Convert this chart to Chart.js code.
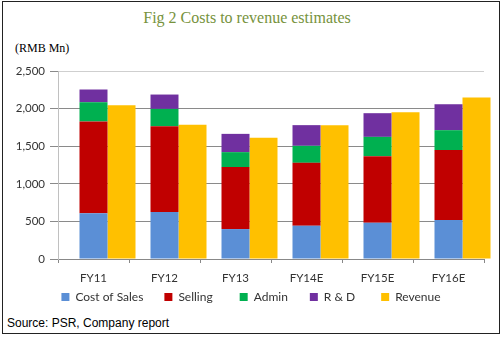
<!DOCTYPE html>
<html>
<head>
<meta charset="utf-8">
<script src="https://cdn.jsdelivr.net/npm/chart.js@4"></script>
<style>
  html, body { margin: 0; padding: 0; background: #fff; }
  #wrap { position: relative; width: 502px; height: 337px; overflow: hidden; background: #fff; }
  #frame { position: absolute; left: 2px; top: 1px; width: 496px; height: 331px; border: 1px solid #222; box-sizing: content-box; }
  #title { position: absolute; left: 0; width: 494px; top: 9px; text-align: center; font-family: "Liberation Serif", serif; font-size: 16px; color: #76923C; white-space: nowrap; }
  #unit { position: absolute; left: 15px; top: 41px; font-family: "Liberation Serif", serif; font-size: 12px; color: #000; white-space: nowrap; }
  #source { position: absolute; left: 7px; top: 316px; font-family: "Liberation Sans", Arial, sans-serif; font-size: 12px; color: #000; white-space: nowrap; }
  #c { position: absolute; left: 0; top: 0; }
</style>
</head>
<body>
<div id="wrap">
  <div id="frame"></div>
  <div id="title">Fig 2 Costs to revenue estimates</div>
  <div id="unit">(RMB Mn)</div>
  <div id="source">Source: PSR, Company report</div>
  <canvas id="c" width="502" height="337"></canvas>
</div>
<script>
const categories = ["FY11", "FY12", "FY13", "FY14E", "FY15E", "FY16E"];
const costOfSales = [607, 624, 398, 442, 482, 518];
const selling     = [1222, 1142, 824, 837, 886, 930];
const admin       = [256, 230, 199, 226, 256, 265];
const rnd         = [169, 191, 243, 275, 315, 345];
const revenue     = [2045, 1784, 1611, 1780, 1952, 2147];
const padding     = [0, 0, 0, 0, 0, 0];
const yTicks      = [0, 500, 1000, 1500, 2000, 2500];

const FONT = { family: "Lato, 'Liberation Sans', sans-serif", size: 11.5 };
const LEGEND_FONT = { family: "Lato, 'Liberation Sans', sans-serif", size: 12 };
const legendGap = {
  'Cost of Sales': '\u2003\u2004',
  'Selling': '\u2003\u2002\u2004',
  'Admin': '\u2003\u2005\u2006',
  'R & D': '\u2003\u2002\u2005',
  'Revenue': ''
};

const chart = new Chart(document.getElementById('c'), {
  type: 'bar',
  data: {
    labels: categories,
    datasets: [
      { label: '_pad', data: padding, stack: 'pad', backgroundColor: 'rgba(0,0,0,0)' },
      { label: 'Cost of Sales', data: costOfSales, stack: 'cost', backgroundColor: '#5B8FD6' },
      { label: 'Selling', data: selling, stack: 'cost', backgroundColor: '#C00000' },
      { label: 'Admin', data: admin, stack: 'cost', backgroundColor: '#00B050' },
      { label: 'R & D', data: rnd, stack: 'cost', backgroundColor: '#7030A0' },
      { label: 'Revenue', data: revenue, stack: 'rev', backgroundColor: '#FFC000' }
    ]
  },
  options: {
    responsive: false,
    animation: false,
    devicePixelRatio: 1,
    datasets: { bar: { categoryPercentage: 84 / 71, barPercentage: 1, borderWidth: 0, clip: false } },
    layout: { padding: { top: 71, right: 0, left: 0, bottom: 24 } },
    plugins: {
      tooltip: { enabled: false },
      title: { display: false },
      legend: {
        position: 'bottom',
        labels: {
          boxWidth: 8, boxHeight: 8, padding: 8,
          color: '#333', font: LEGEND_FONT,
          filter: (item) => item.text.trim() !== '_pad',
          generateLabels: (ch) => Chart.defaults.plugins.legend.labels.generateLabels(ch)
            .map(it => Object.assign(it, { text: it.text + (legendGap[it.text] || '') }))
        }
      }
    },
    scales: {
      x: {
        stacked: true,
        offset: true,
        afterFit: (s) => { s.height = 24; },
        grid: { display: true, drawOnChartArea: false, drawTicks: true, tickLength: 4, offset: true, color: '#888' },
        border: { color: '#888' },
        ticks: { color: '#333', font: FONT, padding: 8, maxRotation: 0 }
      },
      y: {
        stacked: true,
        min: 0, max: 2500,
        afterFit: (s) => { s.width = 58; },
        afterBuildTicks: (s) => { s.ticks = yTicks.map(v => ({ value: v })); },
        grid: {
          color: (ctx) => (ctx.tick && ctx.tick.value === 2500) ? '#cfcfcf' : '#8a8a8a',
          tickColor: '#8a8a8a', tickLength: 8, drawTicks: true
        },
        border: { color: '#c0c0c0' },
        ticks: { color: '#333', font: FONT, padding: 5 }
      },
      yRight: {
        position: 'right',
        display: true,
        min: 0, max: 2500,
        afterFit: (s) => { s.width = 18; },
        grid: { display: false, drawTicks: false },
        border: { display: false },
        ticks: { display: false }
      }
    }
  }
});
</script>
</body>
</html>
